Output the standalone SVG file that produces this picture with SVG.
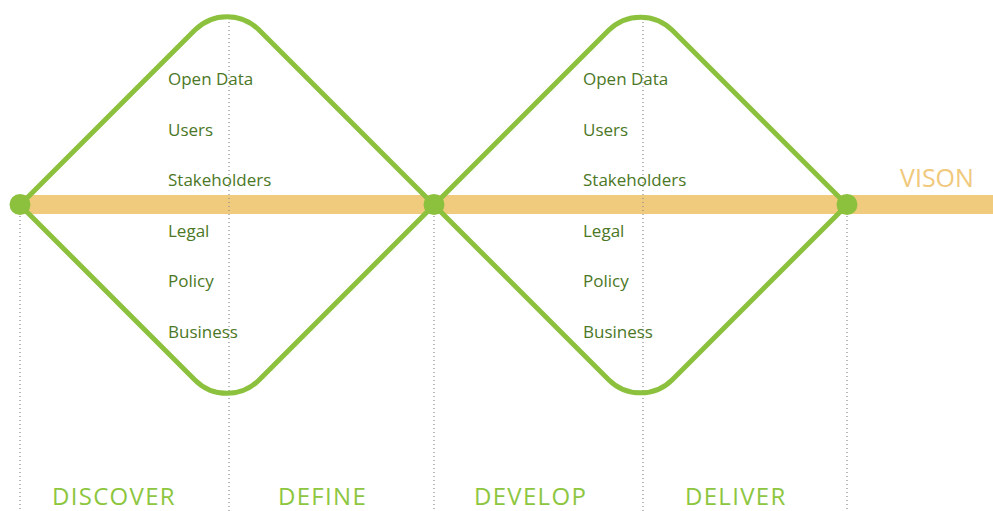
<svg xmlns="http://www.w3.org/2000/svg" width="993" height="511" viewBox="0 0 993 511">
  <style>
    .band { fill: #f0cb7d; }
    .guide { stroke: #8a8a8a; stroke-width: 1.2; stroke-dasharray: 1 3; fill: none; }
    .diamond { fill: none; stroke: #8cc13e; stroke-width: 5; stroke-linejoin: round; }
    .joint { fill: #8cc13e; }
    .item { font-family: "Open Sans", "Noto Sans", sans-serif; font-size: 17px; fill: #4b7726; }
    .phase { font-family: "Open Sans", "Noto Sans", sans-serif; font-size: 24px; letter-spacing: 1.3px; fill: #8dc63f; }
    .vision { font-family: "Open Sans", "Noto Sans", sans-serif; font-size: 25px; fill: #f0c97c; }
  </style>
  <rect width="993" height="511" fill="#ffffff"/>

  <!-- timeline band -->
  <rect class="band" x="20" y="195" width="973" height="19"/>

  <!-- dotted phase guides -->
  <g id="guides">
    <line class="guide" x1="20" y1="216" x2="20" y2="511"/>
    <line class="guide" x1="229" y1="18" x2="229" y2="511"/>
    <line class="guide" x1="434" y1="216" x2="434" y2="511"/>
    <line class="guide" x1="643" y1="18" x2="643" y2="511"/>
    <line class="guide" x1="847" y1="216" x2="847" y2="511"/>
  </g>

  <!-- first diamond: discover / define -->
  <g id="diamond-1">
    <path class="diamond" d="M20,205 L195.18,29.82 A45,45 0 0 1 258.82,29.82 L434,205 L258.82,380.18 A45,45 0 0 1 195.18,380.18 Z"/>
    <text class="item" x="168" y="85">Open Data</text>
    <text class="item" x="168" y="135.5">Users</text>
    <text class="item" x="168" y="186">Stakeholders</text>
    <text class="item" x="168" y="236.5">Legal</text>
    <text class="item" x="168" y="287">Policy</text>
    <text class="item" x="168" y="337.5">Business</text>
  </g>

  <!-- second diamond: develop / deliver -->
  <g id="diamond-2">
    <path class="diamond" d="M434,205 L608.68,30.32 A45,45 0 0 1 672.32,30.32 L847,205 L672.32,379.68 A45,45 0 0 1 608.68,379.68 Z"/>
    <text class="item" x="583" y="85">Open Data</text>
    <text class="item" x="583" y="135.5">Users</text>
    <text class="item" x="583" y="186">Stakeholders</text>
    <text class="item" x="583" y="236.5">Legal</text>
    <text class="item" x="583" y="287">Policy</text>
    <text class="item" x="583" y="337.5">Business</text>
  </g>

  <!-- joints on the band -->
  <g id="joints">
    <circle class="joint" cx="20" cy="204.5" r="10.5"/>
    <circle class="joint" cx="434" cy="204.5" r="10.5"/>
    <circle class="joint" cx="847" cy="204.5" r="10.5"/>
  </g>

  <g id="vision">
    <text class="vision" x="900" y="187">VISON</text>
  </g>

  <!-- phase names -->
  <g id="phases">
    <text class="phase" x="52" y="505">DISCOVER</text>
    <text class="phase" x="278" y="505">DEFINE</text>
    <text class="phase" x="474" y="505">DEVELOP</text>
    <text class="phase" x="685" y="505">DELIVER</text>
  </g>
</svg>
